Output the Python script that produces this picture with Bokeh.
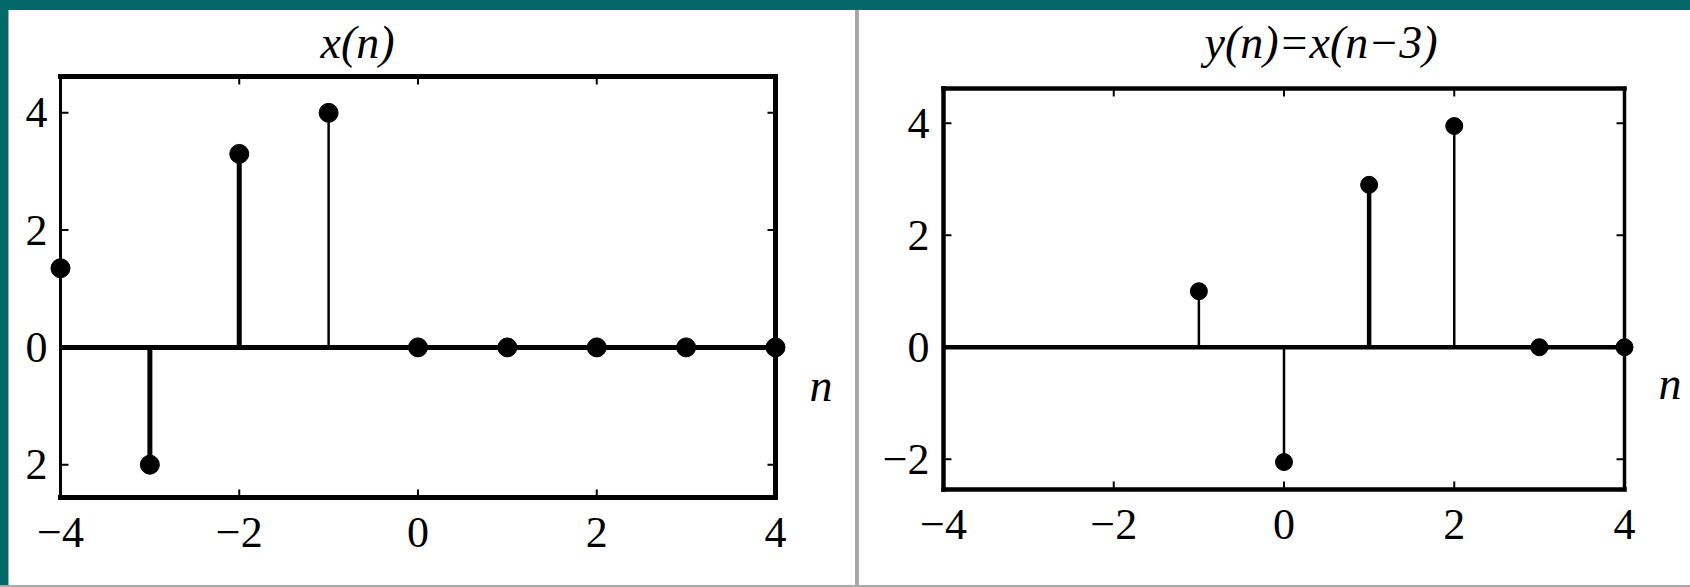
from bokeh.plotting import figure
from bokeh.models import (ColumnDataSource, FixedTicker, LinearAxis, Title, Spacer)
from bokeh.layouts import row, column
from bokeh.embed import file_html
from bokeh.resources import INLINE

# Sequence x(n) and its shifted version y(n)
n_x = [-4, -3, -2, -1, 0, 1, 2, 3, 4]
x_vals = [1.35, -2.0, 3.3, 4.0, 0.0, 0.0, 0.0, 0.0, 0.0]

n_y = [-1, 0, 1, 2, 3, 4]
y_vals = [1.0, -2.05, 2.9, 3.95, 0.0, 0.0]

x_ticks = [-4, -2, 0, 2, 4]
y_ticks = [-2, 0, 2, 4]

TEAL = "#02686a"
GRAY = "#a8a8a8"
SERIF = "Liberation Serif"
MINUS = "\u2212"
TICK_LEN = 8        # inward tick length, px
FIG_H = 575
FRAME_TOP = 63      # shared plot-area top/bottom so the two panels line up the same way
FRAME_BOTTOM = 490


def fmt(t):
    return MINUS + str(-t) if t < 0 else str(t)


def plain_axis(ax, font_size, standoff, overrides, italic=False):
    ax.axis_line_color = None
    ax.major_tick_in = 0
    ax.major_tick_out = 0
    ax.major_tick_line_color = None
    ax.minor_tick_line_color = None
    ax.major_label_standoff = standoff
    ax.major_label_text_font = SERIF
    ax.major_label_text_font_size = font_size
    ax.major_label_text_color = "black"
    if italic:
        ax.major_label_text_font_style = "italic"
    ax.major_label_overrides = overrides


def stem_panel(n, vals, heavy, heavy_w, fig_w, box, ylim, frame_w, zero_w, marker_size,
               title, title_offset, n_label_y, y_labels, x_standoff, y_standoff):
    bl, br, bt, bb = box          # box edges in figure pixels
    X_LO, X_HI = -4, 4
    Y_LO, Y_HI = ylim
    pad_x = 12                    # room so edge markers are not cut
    xu = (br - bl) / (X_HI - X_LO)
    yu = (bb - bt) / (Y_HI - Y_LO)
    pad_top = bt - FRAME_TOP
    pad_bottom = FRAME_BOTTOM - bb

    p = figure(width=fig_w, height=FIG_H,
               x_range=(X_LO - pad_x / xu, X_HI + pad_x / xu),
               y_range=(Y_LO - pad_bottom / yu, Y_HI + pad_top / yu),
               output_backend="svg", toolbar_location=None, title=None,
               min_border_left=bl - pad_x, min_border_right=fig_w - br - pad_x,
               min_border_top=FRAME_TOP, min_border_bottom=FIG_H - FRAME_BOTTOM)
    p.xgrid.grid_line_color = None
    p.ygrid.grid_line_color = None
    p.outline_line_color = None
    p.background_fill_color = "white"
    p.border_fill_color = "white"

    p.xaxis.ticker = FixedTicker(ticks=x_ticks)
    p.yaxis.ticker = FixedTicker(ticks=y_ticks)
    plain_axis(p.xaxis[0], "44px", x_standoff, {t: fmt(t) for t in x_ticks})
    plain_axis(p.yaxis[0], "44px", y_standoff, y_labels)

    # the "n" caption of the horizontal axis, on the right side
    n_axis = LinearAxis(ticker=FixedTicker(ticks=[n_label_y]))
    plain_axis(n_axis, "46px", 22, {n_label_y: "n"}, italic=True)
    p.add_layout(n_axis, "right")

    p.add_layout(Title(text=title, align="left", offset=title_offset, standoff=8,
                       vertical_align="top",
                       text_font=SERIF, text_font_style="italic", text_font_size="46px",
                       text_color="black"), "above")

    # inward tick marks on all four sides
    dx, dy = TICK_LEN / xu, TICK_LEN / yu
    inner_x = [t for t in x_ticks if X_LO < t < X_HI]
    inner_y = [t for t in y_ticks if Y_LO < t < Y_HI]
    tx0 = inner_x + inner_x
    ty0 = [Y_LO] * len(inner_x) + [Y_HI] * len(inner_x)
    ty1 = [Y_LO + dy] * len(inner_x) + [Y_HI - dy] * len(inner_x)
    p.segment(x0=tx0, y0=ty0, x1=tx0, y1=ty1, line_color="black", line_width=2)
    sy0 = inner_y + inner_y
    sx0 = [X_LO] * len(inner_y) + [X_HI] * len(inner_y)
    sx1 = [X_LO + dx] * len(inner_y) + [X_HI - dx] * len(inner_y)
    p.segment(x0=sx0, y0=sy0, x1=sx1, y1=sy0, line_color="black", line_width=2)

    # plot box: left, right, top, bottom
    fl, fr, ft, fb = frame_w
    p.segment(x0=[X_LO, X_HI, X_LO, X_LO], y0=[Y_LO, Y_LO, Y_HI, Y_LO],
              x1=[X_LO, X_HI, X_HI, X_HI], y1=[Y_HI, Y_HI, Y_HI, Y_LO],
              line_width=[fl, fr, ft, fb], line_color="black", line_cap="square")

    # horizontal n-axis through zero
    p.segment(x0=[X_LO], y0=[0], x1=[X_HI], y1=[0], line_color="black", line_width=zero_w)

    widths = [heavy_w if k in heavy else 2.5 for k in n]
    src = ColumnDataSource(dict(n=n, v=vals, zero=[0] * len(n), w=widths))
    p.segment(x0="n", y0="zero", x1="n", y1="v", line_width="w", line_color="black", source=src)
    p.scatter(x="n", y="v", size=marker_size, marker="circle", fill_color="black",
              line_color="black", source=src)
    return p


p1 = stem_panel(n_x, x_vals, heavy={-3, -2}, heavy_w=5, fig_w=846,
                box=(51, 766, 66, 487), ylim=(-2.56, 4.62), frame_w=(3, 5, 5, 5), zero_w=5,
                marker_size=19, title="x(n)", title_offset=272,
                n_label_y=-0.65, y_labels={-2: "2", 0: "0", 2: "2", 4: "4"},
                x_standoff=17, y_standoff=1)

p2 = stem_panel(n_y, y_vals, heavy={1}, heavy_w=4.5, fig_w=831,
                box=(84, 765, 78, 479), ylim=(-2.54, 4.62), frame_w=(4.5, 3.5, 4.5, 4.5),
                zero_w=4.5, marker_size=17, title="y(n)=x(n" + MINUS + "3)", title_offset=273,
                n_label_y=-0.64, y_labels={t: fmt(t) for t in y_ticks},
                x_standoff=9, y_standoff=2)


def block(w, h, color):
    return Spacer(width=w, height=h, styles={"background-color": color})


layout = column(
    block(1690, 10, TEAL),
    row(block(8, FIG_H, TEAL), block(1, FIG_H, GRAY), p1, block(4, FIG_H, GRAY), p2),
    block(1690, 2, GRAY),
)

open("out.html", "w").write(file_html(layout, INLINE))
